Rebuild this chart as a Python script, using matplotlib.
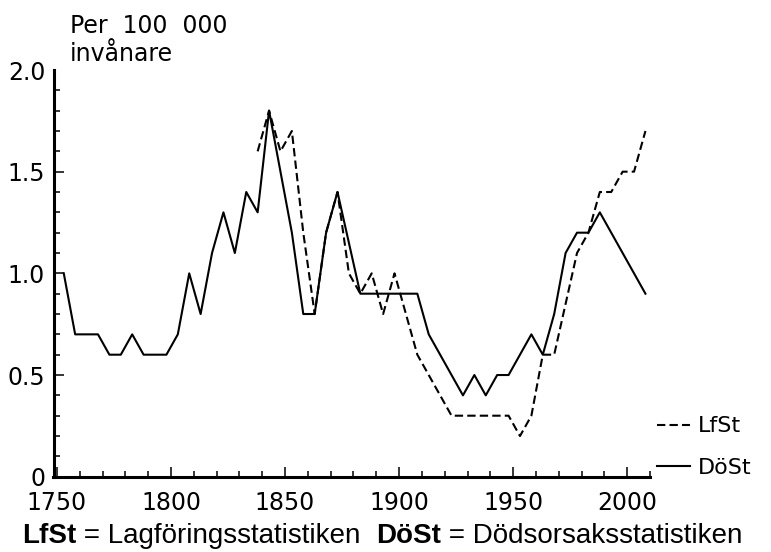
import numpy as np
import matplotlib
matplotlib.use('Agg')
import matplotlib.pyplot as plt
from matplotlib.ticker import MultipleLocator, FixedLocator, FuncFormatter

# DöSt = Dödsorsaksstatistiken, 5-year periods (midpoints)
dost_years = [1753, 1758, 1763, 1768, 1773, 1778, 1783, 1788, 1793, 1798,
              1803, 1808, 1813, 1818, 1823, 1828, 1833, 1838, 1843, 1848,
              1853, 1858, 1863, 1868, 1873, 1878, 1883, 1888, 1893, 1898,
              1903, 1908, 1913, 1918, 1923, 1928, 1933, 1938, 1943, 1948,
              1953, 1958, 1963, 1968, 1973, 1978, 1983, 1988, 1993, 1998,
              2003, 2008]
dost_vals = [1.0, 0.7, 0.7, 0.7, 0.6, 0.6, 0.7, 0.6, 0.6, 0.6,
             0.7, 1.0, 0.8, 1.1, 1.3, 1.1, 1.4, 1.3, 1.8, 1.5,
             1.2, 0.8, 0.8, 1.2, 1.4, 1.15, 0.9, 0.9, 0.9, 0.9,
             0.9, 0.9, 0.7, 0.6, 0.5, 0.4, 0.5, 0.4, 0.5, 0.5,
             0.6, 0.7, 0.6, 0.8, 1.1, 1.2, 1.2, 1.3, 1.2, 1.1,
             1.0, 0.9]

# LfSt = Lagföringsstatistiken
lfst_years = [1838, 1843, 1848, 1853, 1858, 1863, 1868, 1873, 1878, 1883,
              1888, 1893, 1898, 1903, 1908, 1913, 1918, 1923, 1928, 1933,
              1938, 1943, 1948, 1953, 1958, 1963, 1968, 1973, 1978, 1983,
              1988, 1993, 1998, 2003, 2008]
lfst_vals = [1.6, 1.8, 1.6, 1.7, 1.2, 0.8, 1.2, 1.4, 1.0, 0.9,
             1.0, 0.8, 1.0, 0.8, 0.6, 0.5, 0.4, 0.3, 0.3, 0.3,
             0.3, 0.3, 0.3, 0.2, 0.3, 0.6, 0.6, 0.85, 1.1, 1.2,
             1.4, 1.4, 1.5, 1.5, 1.7]

fig = plt.figure(figsize=(7.71, 5.52), dpi=100)
ax = fig.add_axes([53.5/771, 75.3/552, (650-53.5)/771, (476.7-70)/552])

l1, = ax.plot(lfst_years, lfst_vals, color='black', lw=1.5, ls=(0, (4, 2)), label='LfSt')
l2, = ax.plot(dost_years, dost_vals, color='black', lw=1.5, label='DöSt')

ax.set_xlim(1748.5, 2010)
ax.set_ylim(0, 2.0)
ax.spines['top'].set_visible(False)
ax.spines['right'].set_visible(False)
ax.spines['left'].set_linewidth(2.2)
ax.spines['bottom'].set_linewidth(2.2)

ax.xaxis.set_major_locator(MultipleLocator(50))
ax.xaxis.set_minor_locator(MultipleLocator(10))
ax.yaxis.set_major_locator(FixedLocator([0, 0.5, 1.0, 1.5, 2.0]))
ax.yaxis.set_minor_locator(MultipleLocator(0.1))
ax.yaxis.set_major_formatter(FuncFormatter(lambda v, p: '0' if v == 0 else f'{v:.1f}'))
ax.tick_params(which='both', direction='in', width=1.1, labelsize=17, color='black')
ax.tick_params(which='major', length=7.5)
ax.tick_params(which='minor', length=4.5)
ax.tick_params(axis='x', pad=10)
ax.tick_params(axis='y', pad=6)
ax.yaxis.get_major_ticks()[-1].tick1line.set_visible(False)

fig.text(70/771, 1 - 60.7/552, 'Per  100  000\ninvånare', fontsize=17, ha='left',
         va='baseline', linespacing=1.2)

fig.legend(handles=[l1, l2], loc='lower left', bbox_to_anchor=(657/771, 74.5/552),
           frameon=False, fontsize=16, handlelength=1.5, handletextpad=0.35,
           labelspacing=0.95, borderpad=0, borderaxespad=0)

cap_font = dict(family='Liberation Sans', fontsize=20)
t = fig.text(22/771, 9/552, 'LfSt', fontweight='bold', va='baseline', **cap_font)
t = ax.annotate(' = Lagföringsstatistiken  ', xy=(1, 0), xycoords=t, va='bottom', **cap_font)
t = ax.annotate('DöSt', xy=(1, 0), xycoords=t, fontweight='bold', va='bottom', **cap_font)
ax.annotate(' = Dödsorsaksstatistiken', xy=(1, 0), xycoords=t, va='bottom', **cap_font)

fig.savefig('out.png', dpi=100)
